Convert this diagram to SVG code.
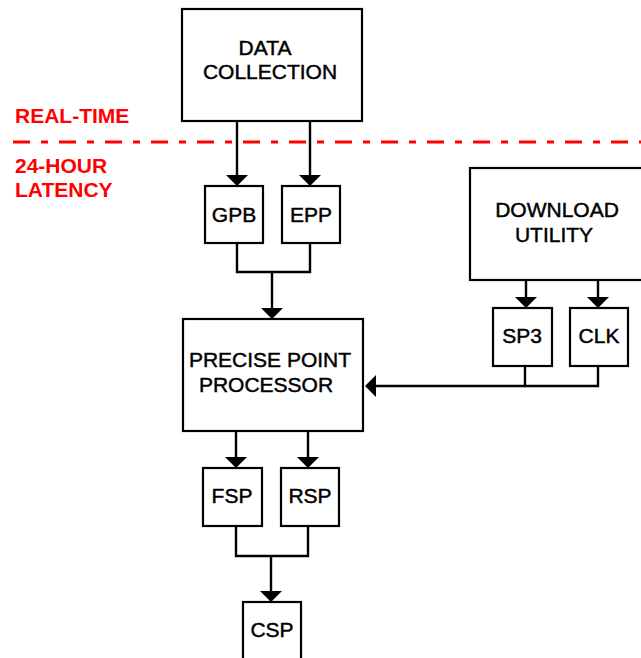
<svg xmlns="http://www.w3.org/2000/svg" width="641" height="658" viewBox="0 0 641 658">
<style>
.box{fill:#fff;stroke:#000;stroke-width:2.2}
.lbl{font-family:"Liberation Sans",Arial,sans-serif;font-size:21px;fill:#000;stroke:#000;stroke-width:0.45;text-anchor:middle}
.red{font-family:"Liberation Sans",Arial,sans-serif;font-size:21px;fill:#ff0000;font-weight:bold}
.conn{fill:none;stroke:#000;stroke-width:2.4}
.arr{marker-end:url(#ah)}
</style>
<defs>
<marker id="ah" viewBox="0 0 11 22" refX="9" refY="11" markerWidth="11" markerHeight="22" markerUnits="userSpaceOnUse" orient="auto">
<path d="M0,0 L11,11 L0,22 z" fill="#000"/>
</marker>
</defs>
<rect width="641" height="658" fill="#fff"/>
<g id="latency-divider">
<line x1="13" y1="142" x2="645" y2="142" stroke="#ff0000" stroke-width="3" stroke-dasharray="17 11 7 11"/>
<text class="red" x="15" y="123">REAL-TIME</text>
<text class="red" x="15" y="173">24-HOUR</text>
<text class="red" x="15" y="197">LATENCY</text>
</g>
<g id="connectors">
<line class="conn arr" x1="237" y1="121" x2="237" y2="184"/>
<line class="conn arr" x1="310" y1="121" x2="310" y2="184"/>
<polyline class="conn" points="237,243 237,272 310,272 310,243"/>
<line class="conn arr" x1="272" y1="272" x2="272" y2="317"/>
<line class="conn arr" x1="526" y1="280" x2="526" y2="306"/>
<line class="conn arr" x1="598" y1="280" x2="598" y2="306"/>
<polyline class="conn" points="525,366 525,386 598,386 598,366"/>
<line class="conn arr" x1="525" y1="386" x2="367" y2="386"/>
<line class="conn arr" x1="236" y1="431" x2="236" y2="466"/>
<line class="conn arr" x1="308" y1="431" x2="308" y2="466"/>
<polyline class="conn" points="236,526 236,556 308,556 308,526"/>
<line class="conn arr" x1="271" y1="556" x2="271" y2="600"/>
</g>
<g id="data-collection">
<rect class="box" x="182" y="9" width="180" height="112"/>
<text class="lbl" x="265" y="55">DATA</text>
<text class="lbl" x="270" y="79">COLLECTION</text>
</g>
<g id="gpb">
<rect class="box" x="205" y="186" width="58" height="57"/>
<text class="lbl" x="234" y="222">GPB</text>
</g>
<g id="epp">
<rect class="box" x="282" y="186" width="58" height="57"/>
<text class="lbl" x="311" y="222">EPP</text>
</g>
<g id="download-utility">
<rect class="box" x="470" y="168" width="176" height="112"/>
<text class="lbl" x="557" y="217">DOWNLOAD</text>
<text class="lbl" x="554" y="242">UTILITY</text>
</g>
<g id="sp3">
<rect class="box" x="493" y="308" width="59" height="58"/>
<text class="lbl" x="522" y="343">SP3</text>
</g>
<g id="clk">
<rect class="box" x="570" y="308" width="58" height="58"/>
<text class="lbl" x="599" y="343">CLK</text>
</g>
<g id="precise-point-processor">
<rect class="box" x="183" y="319" width="180" height="112"/>
<text class="lbl" x="270" y="367">PRECISE POINT</text>
<text class="lbl" x="266" y="392">PROCESSOR</text>
</g>
<g id="fsp">
<rect class="box" x="203" y="468" width="59" height="58"/>
<text class="lbl" x="232" y="503">FSP</text>
</g>
<g id="rsp">
<rect class="box" x="281" y="468" width="58" height="58"/>
<text class="lbl" x="310" y="503">RSP</text>
</g>
<g id="csp">
<rect class="box" x="243" y="602" width="58" height="70"/>
<text class="lbl" x="272" y="637">CSP</text>
</g>
</svg>
